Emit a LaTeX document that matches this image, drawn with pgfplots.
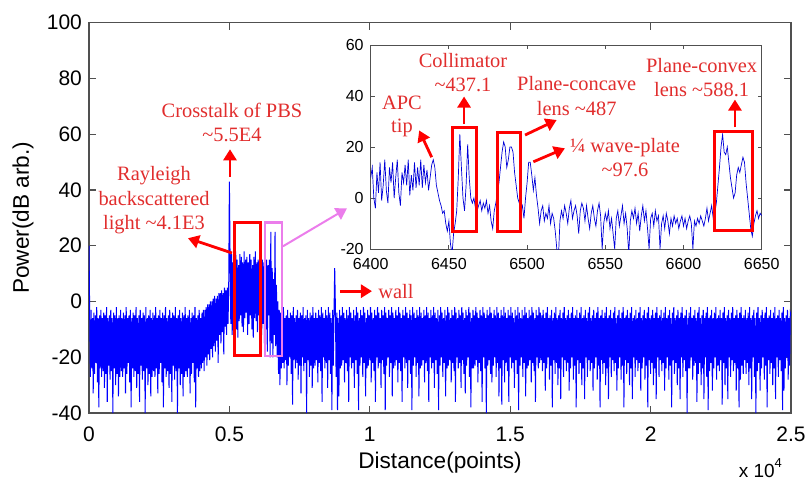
\documentclass[border=0pt]{standalone}
\usepackage{fontspec}
\setmainfont{Liberation Serif}
\setsansfont{Liberation Sans}
\usepackage{pgfplots}
\pgfplotsset{compat=1.18}
\usetikzlibrary{arrows.meta}

\definecolor{annred}{RGB}{225,45,45}
\definecolor{boxred}{RGB}{255,0,0}
\definecolor{pinkbox}{RGB}{235,125,235}
\definecolor{axgray}{RGB}{80,80,80}
\definecolor{sigblue}{RGB}{0,0,255}

\tikzset{
  annot/.style={text=annred, align=center, font=\fontsize{10.2}{12.3}\selectfont},
  redarrow/.style={boxred, line width=1.4pt, -{Triangle[length=5.5pt,width=6.5pt]}},
}

\begin{document}
\begin{tikzpicture}
% main trace, full length
\begin{axis}[
  at={(0,0)}, anchor=south west,
  scale only axis, width=351pt, height=195.15pt,
  xmin=0, xmax=25000, ymin=-40, ymax=100,
  xtick={0,5000,10000,15000,20000,25000},
  xticklabels={0,0.5,1,1.5,2,2.5},
  ytick={-40,-20,0,20,40,60,80,100},
  scaled x ticks=false,
  tick align=inside, major tick length=3.5pt,
  axis line style={axgray, line width=0.6pt},
  tick style={axgray, line width=0.6pt},
  ticklabel style={font=\sffamily\fontsize{10.5}{12}\selectfont},
  /pgf/number format/assume math mode=true,
  xticklabel style={yshift=-3.5pt},
  xlabel={Distance(points)}, ylabel={Power(dB arb.)},
  label style={font=\sffamily\fontsize{11.3}{13}\selectfont},
  xlabel style={at={(rel axis cs:0.5,0)}, anchor=north, yshift=-16pt},
  ylabel style={at={(rel axis cs:-0.0855,0.5)}, anchor=base},
  clip mode=individual,
]
\addplot[sigblue, line width=0.5pt] coordinates {
(0,20)(25,-5)(50,-27)(75,-3)(100,-24)(125,-6)(150,-33)(175,-4)(200,-26)(225,-5)
(250,-22)(275,-2)(300,-29)(325,-6)(350,-38)(375,-5)(400,-24)(425,-3)(450,-27)(475,-6)
(500,-25)(525,-4)(550,-31)(575,-5)(600,-26)(625,-2)(650,-36)(675,-6)(700,-23)(725,-5)
(750,-28)(775,-3)(800,-25)(825,-6)(850,-40)(875,-4)(900,-24)(925,-5)(950,-30)(975,-2)
(1000,-26)(1025,-6)(1050,-34)(1075,-5)(1100,-27)(1125,-3)(1150,-25)(1175,-6)(1200,-27)(1225,-4)
(1250,-24)(1275,-5)(1300,-33)(1325,-2)(1350,-26)(1375,-6)(1400,-22)(1425,-5)(1450,-29)(1475,-3)
(1500,-38)(1525,-6)(1550,-24)(1575,-4)(1600,-27)(1625,-5)(1650,-25)(1675,-2)(1700,-31)(1725,-6)
(1750,-26)(1775,-5)(1800,-36)(1825,-3)(1850,-23)(1875,-6)(1900,-28)(1925,-4)(1950,-25)(1975,-5)
(2000,-40)(2025,-2)(2050,-24)(2075,-6)(2100,-30)(2125,-5)(2150,-26)(2175,-3)(2200,-34)(2225,-6)
(2250,-27)(2275,-4)(2300,-25)(2325,-5)(2350,-27)(2375,-2)(2400,-24)(2425,-6)(2450,-33)(2475,-5)
(2500,-26)(2525,-3)(2550,-22)(2575,-6)(2600,-29)(2625,-4)(2650,-38)(2675,-5)(2700,-24)(2725,-2)
(2750,-27)(2775,-6)(2800,-25)(2825,-5)(2850,-31)(2875,-3)(2900,-26)(2925,-6)(2950,-36)(2975,-4)
(3000,-23)(3025,-5)(3050,-28)(3075,-2)(3100,-25)(3125,-6)(3150,-40)(3175,-5)(3200,-24)(3225,-3)
(3250,-30)(3275,-6)(3300,-26)(3325,-4)(3350,-34)(3375,-5)(3400,-27)(3425,-2)(3450,-25)(3475,-6)
(3500,-27)(3525,-5)(3550,-24)(3575,-3)(3600,-33)(3625,-6)(3650,-26)(3675,-4)(3700,-22)(3725,-5)
(3750,-29)(3775,-2)(3800,-38)(3825,-6)(3850,-24)(3875,-5)(3900,-27)(3925,-3)(3950,-25)(3975,-6)
(4000,-24)(4025,-4)(4050,-22)(4075,-3)(4100,-25)(4125,-3)(4150,-20)(4175,-2)(4200,-23)(4225,-1)
(4250,-19)(4275,-1)(4300,-21)(4325,0)(4350,-17)(4375,0)(4400,-20)(4425,1)(4450,-16)(4475,2)
(4500,-18)(4525,1)(4550,-14)(4575,2)(4600,-22)(4625,3)(4650,-12)(4675,3)(4700,-15)(4725,4)
(4750,-11)(4775,3)(4800,-19)(4825,5)(4850,-9)(4875,4)(4900,-12)(4925,5)(4950,-8)(4975,4)
(5000,43)(5025,15)(5050,-8)(5075,17)(5100,-12)(5125,14)(5150,-6)(5175,16)(5200,-4)(5225,18)
(5250,-10)(5275,15)(5300,-13)(5325,13)(5350,-7)(5375,17)(5400,-5)(5425,16)(5450,-9)(5475,14)
(5500,-11)(5525,18)(5550,-6)(5575,15)(5600,-4)(5625,16)(5650,-12)(5675,14)(5700,-8)(5725,17)
(5750,-5)(5775,15)(5800,-10)(5825,13)(5850,-13)(5875,16)(5900,-6)(5925,18)(5950,-7)(5975,14)
(6000,-11)(6025,15)(6050,-5)(6075,17)(6100,-9)(6125,16)(6150,-12)(6175,15)
(6200,-8)(6225,14)(6250,-15)(6275,12)(6300,-10)(6325,15)(6350,-18)(6375,13)(6400,-5)(6425,15)
(6450,-20)(6475,25)(6500,-15)(6525,12)(6550,-20)(6575,8)(6600,-12)(6625,25)(6650,-16)(6675,6)
(6700,-20)(6725,0)(6750,-26)(6775,-3)(6800,-30)(6825,-4)
(6850,-24)(6875,-5)(6900,-22)(6925,-2)(6950,-24)(6975,-6)(7000,-21)(7025,-5)(7050,-30)(7075,-3)
(7100,-23)(7125,-6)(7150,-20)(7175,-4)(7200,-26)(7225,-5)(7250,-37)(7275,-2)(7300,-21)(7325,-6)
(7350,-24)(7375,-5)(7400,-22)(7425,-3)(7450,-28)(7475,-6)(7500,-23)(7525,-4)(7550,-33)(7575,-5)
(7600,-20)(7625,-2)(7650,-25)(7675,-6)(7700,-22)(7725,-5)(7750,-40)(7775,-3)(7800,-21)(7825,-6)
(7850,-27)(7875,-4)(7900,-23)(7925,-5)(7950,-31)(7975,-2)(8000,-24)(8025,-6)
(8050,-23)(8075,-4)(8100,-21)(8125,-6)(8150,-29)(8175,-3)(8200,-22)(8225,-5)(8250,-25)(8275,-2)
(8300,-36)(8325,-4)(8350,-20)(8375,-6)(8400,-24)(8425,-3)(8450,-22)(8475,-5)(8500,-31)(8525,-2)
(8550,-21)(8575,-4)(8600,-26)(8625,-6)(8650,-39)(8675,-3)(8700,-23)(8725,-5)(8750,12)(8775,-2)
(8800,-27)(8825,-4)(8850,-39)(8875,-6)(8900,-34)(8925,-3)(8950,-24)(8975,-5)(9000,-23)(9025,-2)
(9050,-21)(9075,-4)(9100,-29)(9125,-6)(9150,-22)(9175,-3)(9200,-25)(9225,-5)(9250,-36)(9275,-2)
(9300,-20)(9325,-4)(9350,-24)(9375,-6)(9400,-22)(9425,-3)(9450,-31)(9475,-5)(9500,-21)(9525,-2)
(9550,-26)(9575,-4)(9600,-39)(9625,-6)(9650,-23)(9675,-3)(9700,-20)(9725,-5)(9750,-27)(9775,-2)
(9800,-22)(9825,-4)(9850,-34)(9875,-6)(9900,-24)(9925,-3)(9950,-23)(9975,-5)(10000,-21)(10025,-2)
(10050,-29)(10075,-4)(10100,-22)(10125,-6)(10150,-25)(10175,-3)(10200,-36)(10225,-5)(10250,-20)(10275,-2)
(10300,-24)(10325,-4)(10350,-22)(10375,-6)(10400,-31)(10425,-3)(10450,-21)(10475,-5)(10500,-26)(10525,-2)
(10550,-39)(10575,-4)(10600,-23)(10625,-6)(10650,-20)(10675,-3)(10700,-27)(10725,-5)(10750,-22)(10775,-2)
(10800,-34)(10825,-4)(10850,-24)(10875,-6)(10900,-23)(10925,-3)(10950,-21)(10975,-5)(11000,-29)(11025,-2)
(11050,-22)(11075,-4)(11100,-25)(11125,-6)(11150,-36)(11175,-3)(11200,-20)(11225,-5)(11250,-24)(11275,-2)
(11300,-22)(11325,-4)(11350,-31)(11375,-6)(11400,-21)(11425,-3)(11450,-26)(11475,-5)(11500,-39)(11525,-2)
(11550,-23)(11575,-4)(11600,-20)(11625,-6)(11650,-27)(11675,-3)(11700,-22)(11725,-5)(11750,-34)(11775,-2)
(11800,-24)(11825,-4)(11850,-23)(11875,-6)(11900,-21)(11925,-3)(11950,-29)(11975,-5)(12000,-22)(12025,-2)
(12050,-25)(12075,-4)(12100,-36)(12125,-6)(12150,-20)(12175,-3)(12200,-24)(12225,-5)(12250,-22)(12275,-2)
(12300,-31)(12325,-4)(12350,-21)(12375,-6)(12400,-26)(12425,-3)(12450,-39)(12475,-5)(12500,-23)(12525,-2)
(12550,-20)(12575,-4)(12600,-27)(12625,-6)(12650,-22)(12675,-3)(12700,-34)(12725,-5)(12750,-24)(12775,-2)
(12800,-23)(12825,-4)(12850,-21)(12875,-6)(12900,-29)(12925,-3)(12950,-22)(12975,-5)(13000,-25)(13025,-2)
(13050,-36)(13075,-4)(13100,-20)(13125,-6)(13150,-24)(13175,-3)(13200,-22)(13225,-5)(13250,-31)(13275,-2)
(13300,-21)(13325,-4)(13350,-26)(13375,-6)(13400,-33)(13425,-3)(13450,-23)(13475,-5)(13500,-20)(13525,-2)
(13550,-27)(13575,-4)(13600,-38)(13625,-6)(13650,-24)(13675,-3)(13700,-24)(13725,-5)(13750,-23)(13775,-2)
(13800,-21)(13825,-4)(13850,-29)(13875,-6)(13900,-22)(13925,-3)(13950,-25)(13975,-5)(14000,-36)(14025,-2)
(14050,-20)(14075,-4)(14100,-24)(14125,-6)(14150,-40)(14175,-3)(14200,-23)(14225,-5)(14250,-21)(14275,-2)
(14300,-26)(14325,-4)(14350,-29)(14375,-6)(14400,-23)(14425,-3)(14450,-20)(14475,-5)(14500,-27)(14525,-2)
(14550,-22)(14575,-4)(14600,-34)(14625,-6)(14650,-24)(14675,-3)(14700,-37)(14725,-5)(14750,-21)(14775,-2)
(14800,-29)(14825,-4)(14850,-22)(14875,-6)(14900,-25)(14925,-3)(14950,-36)(14975,-5)(15000,-20)(15025,-2)
(15050,-24)(15075,-4)(15100,-22)(15125,-6)(15150,-31)(15175,-3)(15200,-21)(15225,-5)(15250,-26)(15275,-2)
(15300,-39)(15325,-4)(15350,-23)(15375,-6)(15400,-20)(15425,-3)(15450,-27)(15475,-5)(15500,-22)(15525,-2)
(15550,-34)(15575,-4)(15600,-24)(15625,-6)(15650,-23)(15675,-3)(15700,-21)(15725,-5)(15750,-29)(15775,-2)
(15800,-22)(15825,-4)(15850,-25)(15875,-6)(15900,-36)(15925,-3)(15950,-20)(15975,-5)(16000,-24)(16025,-2)
(16050,-22)(16075,-4)
(16100,-21)(16125,-5)(16150,-25)(16175,-3)(16200,-22)(16225,-6)(16250,-32)(16275,-4)(16300,-24)(16325,-2)
(16350,-20)(16375,-6)(16400,-28)(16425,-5)(16450,-23)(16475,-3)(16500,-38)(16525,-6)(16550,-21)(16575,-4)
(16600,-26)(16625,-2)(16650,-22)(16675,-6)(16700,-30)(16725,-5)(16750,-24)(16775,-3)(16800,-35)(16825,-6)
(16850,-20)(16875,-4)(16900,-27)(16925,-2)(16950,-21)(16975,-6)(17000,-25)(17025,-5)(17050,-22)(17075,-3)
(17100,-32)(17125,-6)(17150,-24)(17175,-4)(17200,-20)(17225,-2)(17250,-28)(17275,-6)(17300,-23)(17325,-5)
(17350,-38)(17375,-3)(17400,-21)(17425,-6)(17450,-26)(17475,-4)(17500,-22)(17525,-2)(17550,-30)(17575,-6)
(17600,-24)(17625,-5)(17650,-35)(17675,-3)(17700,-20)(17725,-6)(17750,-27)(17775,-4)(17800,-21)(17825,-2)
(17850,-25)(17875,-6)(17900,-22)(17925,-5)(17950,-32)(17975,-3)(18000,-24)(18025,-6)(18050,-20)(18075,-4)
(18100,-28)(18125,-2)(18150,-23)(18175,-6)(18200,-38)(18225,-5)(18250,-21)(18275,-3)(18300,-26)(18325,-6)
(18350,-22)(18375,-4)(18400,-30)(18425,-2)(18450,-24)(18475,-6)(18500,-35)(18525,-5)(18550,-20)(18575,-3)
(18600,-27)(18625,-6)(18650,-21)(18675,-4)(18700,-25)(18725,-2)(18750,-22)(18775,-6)(18800,-32)(18825,-5)
(18850,-24)(18875,-3)(18900,-20)(18925,-6)(18950,-28)(18975,-4)(19000,-23)(19025,-2)(19050,-38)(19075,-6)
(19100,-21)(19125,-5)(19150,-26)(19175,-3)(19200,-22)(19225,-6)(19250,-30)(19275,-4)(19300,-24)(19325,-2)
(19350,-35)(19375,-6)(19400,-20)(19425,-5)(19450,-27)(19475,-3)(19500,-21)(19525,-6)(19550,-25)(19575,-4)
(19600,-22)(19625,-2)(19650,-32)(19675,-6)(19700,-24)(19725,-5)(19750,-20)(19775,-3)(19800,-28)(19825,-6)
(19850,-23)(19875,-4)(19900,-38)(19925,-2)(19950,-21)(19975,-6)(20000,-26)(20025,-5)(20050,-22)(20075,-3)
(20100,-30)(20125,-6)(20150,-24)(20175,-4)(20200,-35)(20225,-2)(20250,-20)(20275,-6)(20300,-27)(20325,-5)
(20350,-21)(20375,-3)(20400,-25)(20425,-6)(20450,-22)(20475,-4)(20500,-32)(20525,-2)(20550,-24)(20575,-6)
(20600,-20)(20625,-5)(20650,-28)(20675,-3)(20700,-23)(20725,-6)(20750,-38)(20775,-4)(20800,-21)(20825,-2)
(20850,-26)(20875,-6)(20900,-22)(20925,-5)(20950,-30)(20975,-3)(21000,-24)(21025,-6)(21050,-35)(21075,-4)
(21100,-20)(21125,-2)(21150,-27)(21175,-6)(21200,-21)(21225,-5)(21250,-25)(21275,-3)(21300,-40)(21325,-6)
(21350,-24)(21375,-4)(21400,-24)(21425,-2)(21450,-20)(21475,-6)(21500,-28)(21525,-5)(21550,-23)(21575,-3)
(21600,-22)(21625,-6)(21650,-36)(21675,-4)(21700,-26)(21725,-2)(21750,-22)(21775,-6)(21800,-30)(21825,-5)
(21850,-24)(21875,-3)(21900,-35)(21925,-6)(21950,-20)(21975,-4)(22000,-27)(22025,-2)(22050,-39)(22075,-6)
(22100,-25)(22125,-5)(22150,-22)(22175,-3)(22200,-32)(22225,-6)(22250,-24)(22275,-4)(22300,-20)(22325,-2)
(22350,-28)(22375,-6)(22400,-23)(22425,-5)(22450,-25)(22475,-3)(22500,-21)(22525,-6)(22550,-37)(22575,-4)
(22600,-22)(22625,-2)(22650,-30)(22675,-6)(22700,-24)(22725,-5)(22750,-35)(22775,-3)(22800,-20)(22825,-6)
(22850,-27)(22875,-4)(22900,-21)(22925,-2)(22950,-25)(22975,-6)(23000,-22)(23025,-5)(23050,-32)(23075,-3)
(23100,-24)(23125,-6)(23150,-38)(23175,-4)(23200,-28)(23225,-2)(23250,-23)(23275,-6)(23300,-26)(23325,-5)
(23350,-21)(23375,-3)(23400,-26)(23425,-6)(23450,-22)(23475,-4)(23500,-30)(23525,-2)(23550,-24)(23575,-6)
(23600,-35)(23625,-5)(23650,-20)(23675,-3)(23700,-27)(23725,-6)(23750,-40)(23775,-4)(23800,-25)(23825,-2)
(23850,-22)(23875,-6)(23900,-32)(23925,-5)(23950,-24)(23975,-3)(24000,-20)(24025,-6)(24050,-28)(24075,-4)
(24100,-23)(24125,-2)(24150,-38)(24175,-6)(24200,-21)(24225,-5)(24250,-26)(24275,-3)(24300,-22)(24325,-6)
(24350,-30)(24375,-4)(24400,-24)(24425,-2)(24450,-35)(24475,-6)(24500,-20)(24525,-5)(24550,-27)(24575,-3)
(24600,-21)(24625,-6)(24650,-25)(24675,-4)(24700,-39)(24725,-2)(24750,-32)(24775,-6)(24800,-24)(24825,-5)
(24850,-20)(24875,-3)(24900,-28)(24925,-6)(24950,-23)(24975,-4)(25000,-5)
};
\draw[boxred, line width=1.5pt] (axis cs:5165,-19.2) rectangle (axis cs:6125,28.3);
\draw[pinkbox, line width=1.1pt] (axis cs:6268,-19.5) rectangle (axis cs:6862,28.3);
\draw[redarrow] (axis cs:5021,44.7) -- (axis cs:5021,54.6);
\draw[redarrow] (axis cs:5092,17.4) -- (axis cs:3525,22.7);
\draw[redarrow] (axis cs:8938,3.7) -- (axis cs:10078,3.7);
\draw[pinkbox, line width=1pt, -{Triangle[length=5.5pt,width=6.5pt]}] (axis cs:6908,19.8) -- (axis cs:9187,33.4);
\node[annot] at (axis cs:5092,64.2) {Crosstalk of PBS\\\textasciitilde5.5E4};
\node[annot] at (axis cs:2315,36.3) {Rayleigh\\backscattered\\light \textasciitilde4.1E3};
\node[annot, anchor=west, inner sep=0pt] at (axis cs:10291,3.7) {wall};
\node[anchor=base west, inner sep=0pt, font=\sffamily\fontsize{9.5}{11}\selectfont]
  at (rel axis cs:0.925,-0.166) {x 10\raisebox{0.55em}{\fontsize{6.5}{7}\selectfont 4}};
\end{axis}

% zoomed inset 6400--6650
\begin{axis}[
  at={(140.85pt,82pt)}, anchor=south west,
  scale only axis, width=195.5pt, height=102pt,
  xmin=6400, xmax=6650, ymin=-20, ymax=60,
  xtick={6400,6450,6500,6550,6600,6650},
  ytick={-20,0,20,40,60},
  tick align=inside, major tick length=2pt,
  axis background/.style={fill=white},
  axis line style={axgray, line width=0.5pt},
  tick style={axgray, line width=0.5pt},
  ticklabel style={font=\sffamily\fontsize{8}{9}\selectfont},
  xticklabel style={yshift=-1pt},
  /pgf/number format/assume math mode=true,
  /pgf/number format/1000 sep={},
  clip mode=individual,
]
\addplot[sigblue!85!black, line width=0.35pt] coordinates {
(6400,8)(6401,12)(6402,0)(6403,-4)(6404,10)(6405,2)(6406,14)(6407,-1)(6408,5)(6409,15)
(6410,3)(6411,-2)(6412,12)(6413,6)(6414,14)(6415,0)(6416,8)(6417,15)(6418,2)(6419,-3)
(6420,10)(6421,6)(6422,13)(6423,5)(6424,15)(6425,1)(6426,9)(6427,3)(6428,14)(6429,4)
(6430,12)(6431,5)(6432,15)(6433,4)(6434,13)(6435,6)(6436,11)(6437,3)(6438,8)(6439,13)
(6440,15)(6441,12)(6442,5)(6443,2)(6444,-1)(6445,-3)(6446,-6)(6447,-5)(6448,-10)(6449,-13)
(6450,-9)(6451,-18)(6452,-22)(6453,-14)(6454,-10)(6455,-5)(6456,8)(6457,25)(6458,12)(6459,0)
(6460,-5)(6461,5)(6462,21)(6463,8)(6464,0)(6465,-2)(6466,0)(6467,-4)(6468,-5)(6469,-3)
(6470,-1)(6471,-5)(6472,-2)(6473,-4)(6474,-1)(6475,-6)(6476,-3)(6477,-9)(6478,-12)(6479,-5)
(6480,-2)(6481,2)(6482,6)(6483,12)(6484,18)(6485,22)(6486,20)(6487,12)(6488,15)(6489,20)
(6490,20)(6491,18)(6492,10)(6493,5)(6494,0)(6495,-2)(6496,-5)(6497,-3)(6498,-8)(6499,0)
(6500,6)(6501,14)(6502,14)(6503,9)(6504,3)(6505,8)(6506,1)(6507,-4)(6508,-10)(6509,-5)
(6510,-3)(6511,-9)(6512,-6)(6513,-8)(6514,-3)(6515,-10)(6516,-6)(6517,-8)(6518,-13)(6519,-20)
(6520,-24)(6521,-9)(6522,-5)(6523,-8)(6524,-3)(6525,-6)(6526,-10)(6527,-4)(6528,-1)(6529,-8)
(6530,-5)(6531,-3)(6532,-7)(6533,-14)(6534,-5)(6535,-2)(6536,-4)(6537,-9)(6538,-3)(6539,-8)
(6540,-12)(6541,-6)(6542,-3)(6543,-8)(6544,-11)(6545,-5)(6546,-2)(6547,-7)(6548,-20)(6549,-10)
(6550,-6)(6551,-9)(6552,-5)(6553,-12)(6554,-8)(6555,-14)(6556,-20)(6557,-8)(6558,-5)(6559,-11)
(6560,-7)(6561,-3)(6562,-10)(6563,-6)(6564,-12)(6565,-22)(6566,-9)(6567,-5)(6568,-8)(6569,-4)
(6570,-10)(6571,-6)(6572,-13)(6573,-7)(6574,-3)(6575,-9)(6576,-5)(6577,-12)(6578,-20)(6579,-8)
(6580,-6)(6581,-11)(6582,-5)(6583,-9)(6584,-7)(6585,-20)(6586,-10)(6587,-7)(6588,-12)(6589,-6)
(6590,-9)(6591,-14)(6592,-8)(6593,-11)(6594,-7)(6595,-10)(6596,-8)(6597,-12)(6598,-9)(6599,-7)
(6600,-11)(6601,-8)(6602,-12)(6603,-9)(6604,-7)(6605,-10)(6606,-20)(6607,-9)(6608,-11)(6609,-8)
(6610,-10)(6611,-7)(6612,-9)(6613,-11)(6614,-8)(6615,-4)(6616,-9)(6617,-6)(6618,-3)(6619,-8)
(6620,-6)(6621,-2)(6622,5)(6623,12)(6624,20)(6625,25)(6626,18)(6627,17)(6628,20)(6629,14)
(6630,8)(6631,4)(6632,0)(6633,2)(6634,9)(6635,12)(6636,10)(6637,13)(6638,16)(6639,14)
(6640,6)(6641,0)(6642,-6)(6643,-12)(6644,-15)(6645,-10)(6646,-7)(6647,-5)(6648,-8)(6649,-6)
(6650,-7)
};
\draw[boxred, line width=1.5pt] (axis cs:6452,-13.3) rectangle (axis cs:6467.6,27.8);
\draw[boxred, line width=1.5pt] (axis cs:6481,-13.3) rectangle (axis cs:6496,25.5);
\draw[boxred, line width=1.5pt] (axis cs:6620,-12.8) rectangle (axis cs:6644,26);
\draw[redarrow] (axis cs:6439,16) -- (axis cs:6431,26.5);
\draw[redarrow] (axis cs:6459.7,29) -- (axis cs:6459.7,39.8);
\draw[redarrow] (axis cs:6498.7,24.7) -- (axis cs:6518.9,30.6);
\draw[redarrow] (axis cs:6504,14.2) -- (axis cs:6524.2,19.5);
\draw[redarrow] (axis cs:6632.9,27.7) -- (axis cs:6632.9,38.6);
\node[annot, font=\fontsize{10.2}{11.5}\selectfont] at (axis cs:6420,32) {APC\\tip};
\node[annot] at (axis cs:6459,49.2) {Collimator\\\textasciitilde437.1};
\node[annot] at (axis cs:6531.7,40.1) {Plane-concave\\lens \textasciitilde487};
\node[annot] at (axis cs:6562.6,15.9) {¼ wave-plate\\\textasciitilde97.6};
\node[annot] at (axis cs:6611.6,47.3) {Plane-convex\\lens \textasciitilde588.1};
\end{axis}

\pgfresetboundingbox
\useasboundingbox (-44.5pt,-33pt) rectangle (360.5pt,206.5pt);
\end{tikzpicture}
\end{document}
